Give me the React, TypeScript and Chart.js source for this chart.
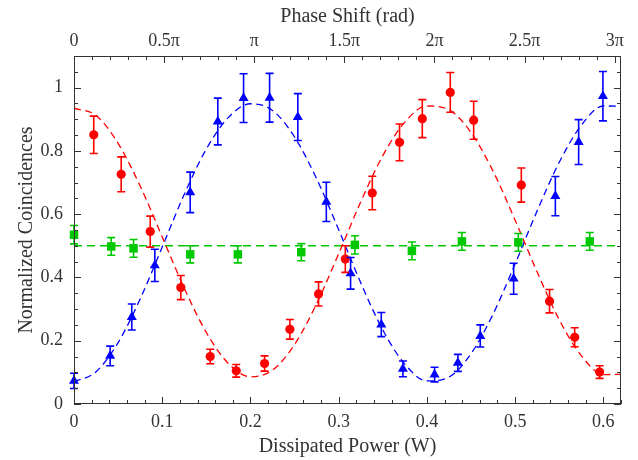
import React, { useEffect, useRef } from "react";
import { Chart, registerables } from "chart.js";

Chart.register(...registerables);

// ---------- axis ticks ----------
const xTickValues = [0, 0.1, 0.2, 0.3, 0.4, 0.5, 0.6];
const xTickLabels = ["0", "0.1", "0.2", "0.3", "0.4", "0.5", "0.6"];
const yTickValues = [0, 0.2, 0.4, 0.6, 0.8, 1];
const yTickLabels = ["0", "0.2", "0.4", "0.6", "0.8", "1"];
const phaseTickValues = [0, 0.5, 1, 1.5, 2, 2.5, 3];
const phaseTickLabels = ["0", "0.5π", "π", "1.5π", "2π", "2.5π", "3π"];

const X_MAX = 0.62;
const Y_MAX = 1.1;
const PHASE_MAX = 3.035; // in units of π

// ---------- data: red circles ----------
const redX = [0.0224, 0.0535, 0.0864, 0.1211, 0.1544, 0.1839, 0.216, 0.2447, 0.2772, 0.3075, 0.3381, 0.369, 0.3948, 0.4265, 0.453, 0.507, 0.539, 0.5675, 0.5958];
const redY = [0.851, 0.726, 0.545, 0.368, 0.15, 0.105, 0.128, 0.236, 0.348, 0.458, 0.667, 0.827, 0.902, 0.985, 0.897, 0.692, 0.325, 0.211, 0.101];
const redErr = [0.059, 0.055, 0.049, 0.038, 0.023, 0.02, 0.024, 0.031, 0.038, 0.042, 0.053, 0.058, 0.06, 0.063, 0.06, 0.054, 0.037, 0.03, 0.02];

// ---------- data: blue triangles ----------
const blueX = [0, 0.041, 0.0655, 0.0916, 0.1317, 0.163, 0.1922, 0.2217, 0.2537, 0.286, 0.3135, 0.3483, 0.3728, 0.4087, 0.4351, 0.4605, 0.4983, 0.5456, 0.572, 0.5995];
const blueY = [0.073, 0.152, 0.275, 0.438, 0.669, 0.893, 0.967, 0.968, 0.907, 0.639, 0.413, 0.251, 0.111, 0.093, 0.13, 0.215, 0.396, 0.657, 0.828, 0.973];
const blueErr = [0.024, 0.031, 0.041, 0.051, 0.064, 0.074, 0.077, 0.077, 0.074, 0.062, 0.05, 0.038, 0.025, 0.023, 0.027, 0.035, 0.049, 0.062, 0.071, 0.078];

// ---------- data: green squares ----------
const greenX = [0, 0.0422, 0.0675, 0.1317, 0.1857, 0.2576, 0.3184, 0.383, 0.4397, 0.5036, 0.5846];
const greenY = [0.535, 0.498, 0.492, 0.473, 0.473, 0.48, 0.503, 0.484, 0.514, 0.511, 0.514];
const greenErr = [0.029, 0.028, 0.028, 0.027, 0.027, 0.027, 0.029, 0.028, 0.028, 0.028, 0.028];

// ---------- fit curves ----------
const fitX = [0, 0.025, 0.05, 0.075, 0.1, 0.125, 0.15, 0.175, 0.2, 0.225, 0.25, 0.275, 0.3, 0.325, 0.35, 0.375, 0.4, 0.425, 0.45, 0.475, 0.5, 0.525, 0.55, 0.575, 0.6, 0.625];
const redFit = [0.935, 0.912, 0.824, 0.689, 0.528, 0.366, 0.226, 0.128, 0.086, 0.107, 0.188, 0.317, 0.475, 0.639, 0.785, 0.891, 0.942, 0.93, 0.858, 0.736, 0.581, 0.417, 0.266, 0.153, 0.093, 0.094];
const blueFit = [0.07, 0.102, 0.194, 0.332, 0.496, 0.663, 0.806, 0.906, 0.949, 0.928, 0.844, 0.712, 0.551, 0.383, 0.234, 0.126, 0.073, 0.085, 0.159, 0.284, 0.443, 0.611, 0.764, 0.881, 0.942, 0.941];
const greenFitX = [0, 0.62];
const greenFit = [0.5, 0.5];

const RED = "rgb(255,0,0)";
const BLUE = "rgb(0,0,255)";
const GREEN = "rgb(0,200,0)";
const AXIS = "#333333";
const FONT = "'Liberation Serif', 'Times New Roman', serif";

const pts = (xs: number[], ys: number[]) => xs.map((x, i) => ({ x, y: ys[i] }));

const framePlugin = {
  id: "frameTicksErrors",
  afterDatasetsDraw(chart: any) {
    const { ctx, chartArea: a, scales } = chart;
    ctx.save();
    // error bars
    chart.data.datasets.forEach((ds: any, di: number) => {
      const errs = ds.errors;
      if (!errs) return;
      const meta = chart.getDatasetMeta(di);
      ctx.strokeStyle = ds.borderColor;
      ctx.lineWidth = 1.6;
      meta.data.forEach((el: any, i: number) => {
        const v = ds.data[i].y;
        const e = errs[i];
        const x = el.x;
        const y1 = scales.y.getPixelForValue(v + e);
        const y2 = scales.y.getPixelForValue(v - e);
        ctx.beginPath();
        ctx.moveTo(x, y1);
        ctx.lineTo(x, y2);
        ctx.moveTo(x - 4, y1);
        ctx.lineTo(x + 4, y1);
        ctx.moveTo(x - 4, y2);
        ctx.lineTo(x + 4, y2);
        ctx.stroke();
      });
    });

    // frame
    ctx.strokeStyle = AXIS;
    ctx.lineWidth = 1;
    ctx.strokeRect(a.left + 0.5, a.top + 0.5, a.right - a.left - 1, a.bottom - a.top - 1);

    ctx.beginPath();
    // bottom ticks (power)
    for (let k = 0; k * 0.02 <= X_MAX + 1e-9; k++) {
      const px = Math.round(scales.x.getPixelForValue(k * 0.02)) + 0.5;
      const len = k % 5 === 0 ? 7 : 4;
      ctx.moveTo(px, a.bottom);
      ctx.lineTo(px, a.bottom - len);
    }
    // top ticks (phase)
    for (let k = 0; k * 0.1 <= PHASE_MAX + 1e-9; k++) {
      const px = Math.round(scales.x2.getPixelForValue(k * 0.1)) + 0.5;
      const len = k % 5 === 0 ? 7 : 4;
      ctx.moveTo(px, a.top);
      ctx.lineTo(px, a.top + len);
    }
    // left/right ticks
    for (let k = 0; k * 0.05 <= Y_MAX + 1e-9; k++) {
      const py = Math.round(scales.y.getPixelForValue(k * 0.05)) + 0.5;
      const len = k % 4 === 0 ? 7 : 4;
      ctx.moveTo(a.left, py);
      ctx.lineTo(a.left + len, py);
      ctx.moveTo(a.right, py);
      ctx.lineTo(a.right - len, py);
    }
    ctx.stroke();
    ctx.restore();
  },
};

export default function App() {
  const ref = useRef<HTMLCanvasElement | null>(null);

  useEffect(() => {
    document.body.style.margin = "0";
    if (!ref.current) return;
    const tickFont = { family: FONT, size: 18 };
    const titleFont = { family: FONT, size: 20 };
    const chart = new Chart(ref.current, {
      type: "scatter",
      data: {
        datasets: [
          {
            label: "red fit",
            data: pts(fitX, redFit),
            showLine: true,
            borderColor: RED,
            borderWidth: 1.3,
            borderDash: [7, 4.5],
            pointRadius: 0,
            cubicInterpolationMode: "monotone",
            clip: 0,
            order: 2,
          } as any,
          {
            label: "blue fit",
            data: pts(fitX, blueFit),
            showLine: true,
            borderColor: BLUE,
            borderWidth: 1.3,
            borderDash: [7, 4.5],
            pointRadius: 0,
            cubicInterpolationMode: "monotone",
            clip: 0,
            order: 2,
          } as any,
          {
            label: "green fit",
            data: pts(greenFitX, greenFit),
            showLine: true,
            borderColor: GREEN,
            borderWidth: 1.5,
            borderDash: [8, 5],
            pointRadius: 0,
            clip: 0,
            order: 2,
          } as any,
          {
            label: "red",
            data: pts(redX, redY),
            errors: redErr,
            backgroundColor: RED,
            borderColor: RED,
            pointStyle: "circle",
            pointRadius: 4.6,
            borderWidth: 0,
            clip: false,
            order: 1,
          } as any,
          {
            label: "blue",
            data: pts(blueX, blueY),
            errors: blueErr,
            backgroundColor: BLUE,
            borderColor: BLUE,
            pointStyle: "triangle",
            pointRadius: 5.8,
            borderWidth: 0,
            clip: false,
            order: 1,
          } as any,
          {
            label: "green",
            data: pts(greenX, greenY),
            errors: greenErr,
            backgroundColor: GREEN,
            borderColor: GREEN,
            pointStyle: "rect",
            pointRadius: 6,
            borderWidth: 0,
            clip: false,
            order: 1,
          } as any,
        ],
      },
      options: {
        animation: false,
        responsive: true,
        maintainAspectRatio: false,
        layout: { padding: { left: 0, top: 0, bottom: 0, right: 17 } },
        plugins: { legend: { display: false }, tooltip: { enabled: false } },
        events: [],
        scales: {
          x: {
            type: "linear",
            position: "bottom",
            min: 0,
            max: X_MAX,
            afterBuildTicks: (s: any) => {
              s.ticks = xTickValues.map((value) => ({ value }));
            },
            afterFit: (s: any) => {
              s.height = 56;
            },
            grid: { display: false, drawTicks: false },
            border: { display: false },
            ticks: {
              callback: (_v: any, i: number) => xTickLabels[i],
              font: tickFont,
              color: AXIS,
              padding: 7,
              maxRotation: 0,
              autoSkip: false,
            },
            title: {
              display: true,
              text: "Dissipated Power (W)",
              font: titleFont,
              color: AXIS,
              padding: { top: 0, bottom: 1 },
            },
          },
          x2: {
            type: "linear",
            position: "top",
            min: 0,
            max: PHASE_MAX,
            afterBuildTicks: (s: any) => {
              s.ticks = phaseTickValues.map((value) => ({ value }));
            },
            afterFit: (s: any) => {
              s.height = 56;
            },
            grid: { display: false, drawTicks: false },
            border: { display: false },
            ticks: {
              callback: (_v: any, i: number) => phaseTickLabels[i],
              font: tickFont,
              color: AXIS,
              padding: 4,
              maxRotation: 0,
              autoSkip: false,
            },
            title: {
              display: true,
              text: "Phase Shift (rad)",
              font: titleFont,
              color: AXIS,
              padding: { top: 5, bottom: 0 },
            },
          },
          y: {
            type: "linear",
            position: "left",
            min: 0,
            max: Y_MAX,
            afterBuildTicks: (s: any) => {
              s.ticks = yTickValues.map((value) => ({ value }));
            },
            afterFit: (s: any) => {
              s.width = 74;
            },
            grid: { display: false, drawTicks: false },
            border: { display: false },
            ticks: {
              callback: (_v: any, i: number) => yTickLabels[i],
              font: tickFont,
              color: AXIS,
              padding: 11,
              autoSkip: false,
            },
            title: {
              display: true,
              text: "Normalized Coincidences",
              font: titleFont,
              color: AXIS,
              padding: { top: 15, bottom: 0 },
            },
          },
        },
      } as any,
      plugins: [framePlugin],
    });
    return () => chart.destroy();
  }, []);

  return (
    <div style={{ width: 638, height: 460, position: "relative" }}>
      <canvas ref={ref} />
    </div>
  );
}
